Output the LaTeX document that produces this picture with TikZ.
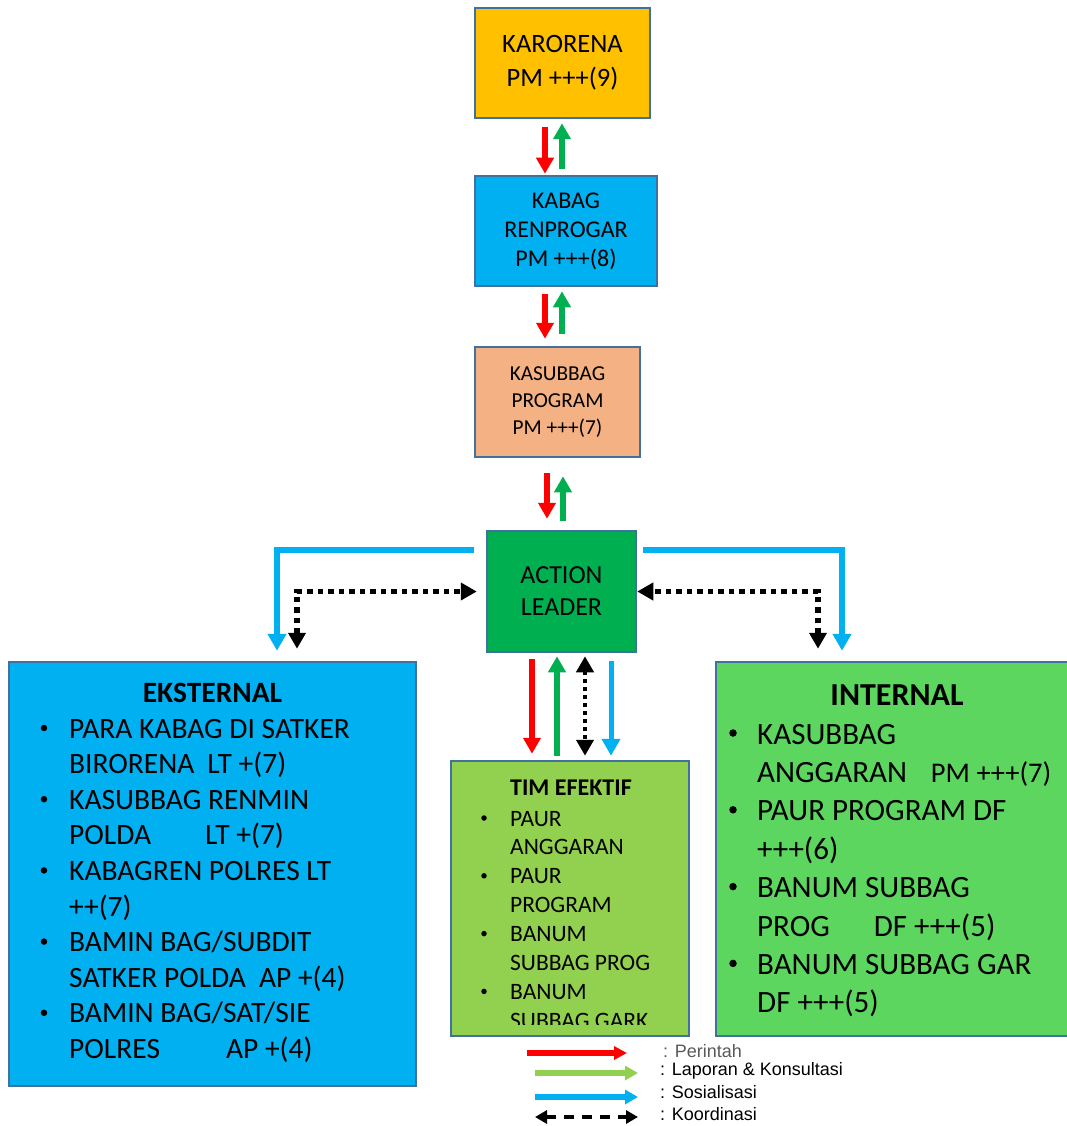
\documentclass[tikz,border=0pt]{standalone}
\usepackage{fontspec}
\setmainfont{Carlito}
\newfontfamily\legendfont{Liberation Sans}
\usetikzlibrary{arrows.meta}

\definecolor{birumuda}{HTML}{00B0F0}
\definecolor{kuning}{HTML}{FFC000}
\definecolor{salem}{HTML}{F4B183}
\definecolor{hijautua}{HTML}{00B050}
\definecolor{hijaulime}{HTML}{92D050}
\definecolor{hijaucerah}{HTML}{5CD65E}
\definecolor{tepi}{HTML}{41719C}

\tikzset{
  kotak/.style={draw=tepi, line width=2.5pt, align=center, inner sep=0pt},
  baris/.style={anchor=base west, inner sep=0pt},
  peluru/.style={circle, fill=black, inner sep=0pt, minimum size=#1},
  perintah/.style={draw=red, line width=5.5pt, -{Triangle[width=17pt,length=16pt]}},
  laporan/.style={draw=hijautua, line width=5.5pt, -{Triangle[width=17pt,length=16pt]}},
  sosialisasi/.style={draw=birumuda, line width=6pt, -{Triangle[width=18pt,length=17pt]}},
  koordinasi/.style={draw=black, line width=5.5pt, dash pattern=on 5.5pt off 5pt,
    {Triangle[width=17pt,length=16pt]}-{Triangle[width=17pt,length=16pt]}},
  legenda/.style={anchor=base west, inner sep=0pt, font=\legendfont\fontsize{18}{21}\selectfont}
}

\begin{document}
\begin{tikzpicture}[x=1pt, y=-1pt]
    \useasboundingbox (0,0) rectangle (1067,1126);

    % Kotak pimpinan
    \node[kotak, fill=kuning, minimum width=175pt, minimum height=110pt,
          font=\fontsize{26.5}{34}\selectfont] (karorena) at (562.5,63) {KARORENA\\PM +++(9)};
    \node[kotak, fill=birumuda, minimum width=182pt, minimum height=110pt,
          font=\fontsize{24}{29}\selectfont] (kabag) at (566,231) {KABAG\\RENPROGAR\\PM +++(8)};
    \node[kotak, fill=salem, minimum width=165pt, minimum height=110pt,
          font=\fontsize{21.3}{27}\selectfont] (kasubbag) at (557.5,402) {KASUBBAG\\PROGRAM\\PM +++(7)};
    \node[kotak, fill=hijautua, minimum width=149pt, minimum height=121pt,
          font=\fontsize{26}{32}\selectfont] (action) at (561.5,591.5) {ACTION\\LEADER};

    % Kotak bawah
    \node[kotak, fill=birumuda, minimum width=407pt, minimum height=424pt] (eksternal) at (212.5,874) {};
    \node[kotak, fill=hijaulime, minimum width=238pt, minimum height=275pt] (tim) at (570,898.5) {};
    \node[kotak, fill=hijaucerah, minimum width=356pt, minimum height=374pt] (internal) at (894,849) {};

    % Isi EKSTERNAL
    \node[anchor=base, font=\bfseries\fontsize{29.5}{34}\selectfont] (judul-eks) at (212.5,702) {EKSTERNAL};
    \foreach \teks [count=\i from 0] in {PARA KABAG DI SATKER, BIRORENA\hspace{13pt}LT +(7),
        KASUBBAG RENMIN, POLDA\hspace{54pt}LT +(7), KABAGREN POLRES LT, ++(7),
        BAMIN BAG/SUBDIT, SATKER POLDA\hspace{13pt}AP +(4), BAMIN BAG/SAT/SIE, POLRES\hspace{66pt}AP +(4)}
        \node[baris, font=\fontsize{29.5}{34}\selectfont] (eks-\i) at (69,738+35.6*\i) {\teks};
    \foreach \i in {0,2,4,6,8}
        \node[peluru=6.5pt] (peluru-eks-\i) at (44,728+35.6*\i) {};

    % Isi TIM EFEKTIF
    \node[baris, font=\bfseries\fontsize{24}{28}\selectfont] (judul-tim) at (510,795) {TIM EFEKTIF};
    \begin{scope}
        \clip (tim.north west) rectangle ([yshift=13pt]tim.south east);
        \foreach \teks [count=\i from 0] in {PAUR, ANGGARAN, PAUR, PROGRAM, BANUM, SUBBAG PROG, BANUM, SUBBAG GARK}
            \node[baris, font=\fontsize{23.5}{28}\selectfont] (tim-\i) at (510,826+28.9*\i) {\teks};
    \end{scope}
    \foreach \i in {0,2,4,6}
        \node[peluru=5.5pt] (peluru-tim-\i) at (484,818+28.9*\i) {};

    % Isi INTERNAL
    \node[anchor=base, font=\bfseries\fontsize{32}{36}\selectfont] (judul-int) at (897,705) {INTERNAL};
    \foreach \teks [count=\i from 0] in {KASUBBAG, ANGGARAN\hspace{24pt}{\fontsize{28.5}{32}\selectfont PM +++(7)},
        PAUR PROGRAM DF, +++(6), BANUM SUBBAG, PROG\hspace{44pt}DF +++(5), BANUM SUBBAG GAR, DF +++(5)}
        \node[baris, font=\fontsize{31}{36}\selectfont] (int-\i) at (757,744+38.4*\i) {\teks};
    \foreach \i in {0,2,4,6}
        \node[peluru=7.5pt] (peluru-int-\i) at (733,733+38.4*\i) {};

    % Panah antar kotak pimpinan
    \draw[perintah, shorten <=8pt, shorten >=1pt] ([xshift=-17.5pt]karorena.south) -- ([xshift=-21pt]kabag.north);
    \draw[laporan, shorten <=6pt, shorten >=4pt] ([xshift=-4pt]kabag.north) -- ([xshift=-0.5pt]karorena.south);
    \draw[perintah, shorten <=7pt, shorten >=7pt] ([xshift=-21pt]kabag.south) -- ([xshift=-12.5pt]kasubbag.north);
    \draw[laporan, shorten <=12pt, shorten >=4pt] ([xshift=4.5pt]kasubbag.north) -- ([xshift=-4pt]kabag.south);
    \draw[perintah, shorten <=15pt, shorten >=11pt] ([xshift=-10.5pt]kasubbag.south) -- ([xshift=-14.5pt]action.north);
    \draw[laporan, shorten <=9pt, shorten >=18pt] ([xshift=1.5pt]action.north) -- ([xshift=5.5pt]kasubbag.south);

    % Panah ACTION LEADER - TIM EFEKTIF
    \draw[perintah, shorten <=6pt, shorten >=6pt] ([xshift=-29.5pt]action.south) -- ([xshift=-38pt]tim.north);
    \draw[laporan, shorten <=4pt, shorten >=3pt] ([xshift=-13pt]tim.north) -- ([xshift=-4.5pt]action.south);
    \draw[koordinasi, line width=4.5pt, dash pattern=on 4pt off 4pt, shorten <=3pt, shorten >=4pt]
        ([xshift=23.5pt]action.south) -- ([xshift=15pt]tim.north);
    \draw[sosialisasi, line width=5pt, shorten <=8pt, shorten >=4pt] ([xshift=49.5pt]action.south) -- ([xshift=41pt]tim.north);

    % Panah siku ke EKSTERNAL dan INTERNAL
    \draw[sosialisasi, shorten <=12pt, shorten >=10pt] ([yshift=41.5pt]action.west) -| ([xshift=64.5pt]eksternal.north);
    \draw[sosialisasi, shorten <=6pt, shorten >=10pt] ([yshift=41.5pt]action.east) -| ([xshift=-52pt]internal.north);
    \draw[koordinasi, shorten <=12pt, shorten >=9pt] ([xshift=84.5pt]eksternal.north) |- (action.west);
    \draw[koordinasi, shorten <=12pt, shorten >=0pt] ([xshift=-76pt]internal.north) |- (action.east);

    % Legenda
    \node[legenda, text=black!65] (lg-perintah) at (663,1057) {: Perintah};
    \node[legenda] (lg-laporan) at (660,1075) {: Laporan \& Konsultasi};
    \node[legenda] (lg-sosialisasi) at (660,1098) {: Sosialisasi};
    \node[legenda] (lg-koordinasi) at (660,1120) {: Koordinasi};
    \draw[perintah, line width=6pt, -{Triangle[width=13pt,length=13pt]}]
        ([xshift=-136pt,yshift=4pt]lg-perintah.base west) -- ([xshift=-36pt,yshift=4pt]lg-perintah.base west);
    \draw[laporan, draw=hijaulime, line width=6pt, -{Triangle[width=14pt,length=13pt]}]
        ([xshift=-125pt,yshift=2pt]lg-laporan.base west) -- ([xshift=-22pt,yshift=2pt]lg-laporan.base west);
    \draw[sosialisasi, line width=6pt, -{Triangle[width=14pt,length=13pt]}]
        ([xshift=-125pt,yshift=1pt]lg-sosialisasi.base west) -- ([xshift=-22pt,yshift=1pt]lg-sosialisasi.base west);
    \draw[koordinasi, line width=4pt, dash pattern=on 10pt off 8pt,
          {Triangle[width=13pt,length=12pt]}-{Triangle[width=13pt,length=12pt]}]
        ([xshift=-125pt,yshift=3pt]lg-koordinasi.base west) -- ([xshift=-22pt,yshift=3pt]lg-koordinasi.base west);

\end{tikzpicture}
\end{document}
